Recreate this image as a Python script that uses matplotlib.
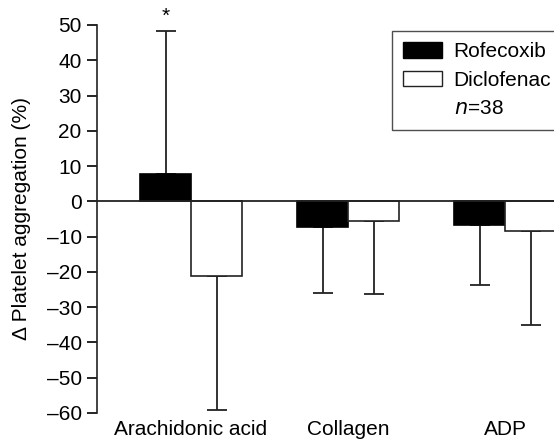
import matplotlib
matplotlib.use("Agg")
import matplotlib.pyplot as plt
from matplotlib.patches import Patch
import numpy as np

plt.rcParams['font.family'] = ['Liberation Sans', 'DejaVu Sans']

categories = ["Arachidonic acid", "Collagen", "ADP"]
series_names = ["Rofecoxib", "Diclofenac"]
rofecoxib = [7.7, -7.4, -6.7]
rofecoxib_err = [40.6, 18.5, 17.0]
diclofenac = [-21.3, -5.6, -8.4]
diclofenac_err = [37.8, 20.7, 26.6]
yticks = list(range(-60, 51, 10))
n_label = "$n$=38"

W, H = 554, 442
fig = plt.figure(figsize=(W/100, H/100), dpi=100)
ax = fig.add_axes([97/W, 1-413/H, 1-97/W, (413-25)/H])

x = np.arange(len(categories))
bw = 0.325
ax.bar(x - bw/2, rofecoxib, bw, color='black', edgecolor='black', linewidth=1.2, zorder=2)
ax.bar(x + bw/2, diclofenac, bw, color='white', edgecolor='#222222', linewidth=1.2, zorder=2)

# one-sided error bars (away from zero)
for xs, vals, errs in ((x - bw/2, rofecoxib, rofecoxib_err), (x + bw/2, diclofenac, diclofenac_err)):
    for xi, v, e in zip(xs, vals, errs):
        lo, hi = (0, e) if v >= 0 else (e, 0)
        ax.errorbar(xi, v, yerr=[[lo], [hi]], fmt='none', ecolor='#222222', elinewidth=1.3,
                    capsize=7, capthick=1.3, zorder=1)

ax.axhline(0, color='#222222', linewidth=1.3, zorder=3)
ax.text(x[0] - bw/2, rofecoxib[0] + rofecoxib_err[0] + 1.5, "*", ha='center', va='bottom', fontsize=15)

ax.set_ylim(-60, 50)
ax.set_xlim(-0.599, 2.312)
ax.set_yticks(yticks)
ax.set_yticklabels([str(t).replace('-', '\u2013') for t in yticks], fontsize=15)
ax.set_xticks(x)
ax.set_xticklabels(categories, fontsize=15)
ax.tick_params(axis='x', length=0, pad=5)
ax.tick_params(axis='y', direction='out', length=7, width=1.2, pad=4)
for s in ['top', 'right', 'bottom']:
    ax.spines[s].set_visible(False)
ax.spines['left'].set_linewidth(1.2)
ax.spines['left'].set_color('#222222')
ax.set_ylabel("\u0394 Platelet aggregation (%)", fontsize=15, labelpad=11)

handles = [Patch(facecolor='black', edgecolor='black'),
           Patch(facecolor='white', edgecolor='#222222'),
           Patch(facecolor='none', edgecolor='none')]
leg = fig.legend(handles, series_names + [n_label], loc='upper left',
                 bbox_to_anchor=(392/W, 1-31/H), fontsize=15, frameon=True,
                 fancybox=False, handlelength=1.83, handleheight=0.77,
                 handletextpad=0.58, borderpad=0.55, labelspacing=0.45,
                 borderaxespad=0)
leg.get_frame().set_edgecolor('#222222')
leg.get_frame().set_linewidth(1.0)

fig.savefig("out.png", dpi=100)
